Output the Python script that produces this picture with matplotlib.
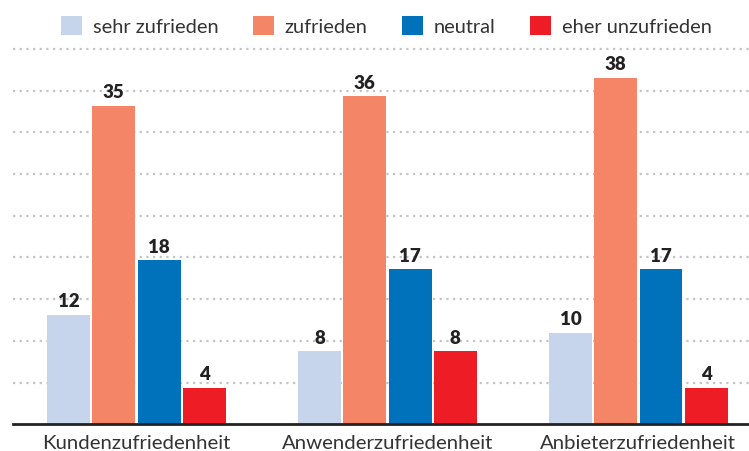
import matplotlib
matplotlib.use("Agg")
import matplotlib.pyplot as plt
import numpy as np

categories = ["Kundenzufriedenheit", "Anwenderzufriedenheit", "Anbieterzufriedenheit"]
series_names = ["sehr zufrieden", "zufrieden", "neutral", "eher unzufrieden"]
sehr_zufrieden = [12, 8, 10]
zufrieden = [35, 36, 38]
neutral = [18, 17, 17]
eher_unzufrieden = [4, 8, 4]
colors = ["#C6D4EC", "#F48667", "#0071BB", "#EE1D25"]

plt.rcParams["font.family"] = ["Lato", "DejaVu Sans"]

fig = plt.figure(figsize=(7.49, 4.51), dpi=100)
ax = fig.add_axes([13 / 749, (451 - 424.3) / 451, 1 - 13 / 749, (424.3 - 40) / 451])

values = [sehr_zufrieden, zufrieden, neutral, eher_unzufrieden]
x = np.arange(len(categories))
step = 0.1805
width = 0.171
for i, (name, vals, col) in enumerate(zip(series_names, values, colors)):
    pos = x + (i - 1.5) * step
    ax.bar(pos, vals, width=width, color=col, label=name, zorder=3)
    for p, v in zip(pos, vals):
        ax.annotate(str(v), (p, v), xytext=(0, 3.5), textcoords="offset points",
                    ha="center", va="bottom", fontsize=13.5, fontweight="heavy",
                    color="#222222")

ax.set_xlim(-0.492, 2.441)
ax.set_ylim(0, 42.2)

# decorative dotted grid
grid_step = 4.58
ax.set_yticks(np.arange(1, 10) * grid_step)
ax.yaxis.grid(True, linestyle=(0, (1, 2)), color="#C4C4C4", linewidth=1.6, zorder=0)
ax.tick_params(axis="y", left=False, labelleft=False)

ax.set_xticks(x)
ax.set_xticklabels(categories, fontsize=14.7, color="#333333")
ax.tick_params(axis="x", length=0, pad=8)

for s in ["top", "right", "left"]:
    ax.spines[s].set_visible(False)
ax.spines["bottom"].set_linewidth(2)
ax.spines["bottom"].set_color("#222222")
ax.spines["bottom"].set_zorder(4)

leg = fig.legend(loc="center", bbox_to_anchor=(0.516, 1 - 26 / 451), ncol=4,
                 frameon=False, fontsize=14.4, handlelength=1.05, handleheight=1.05,
                 handletextpad=0.55, columnspacing=1.72, labelcolor="#333333")

fig.savefig("out.png", dpi=100)
